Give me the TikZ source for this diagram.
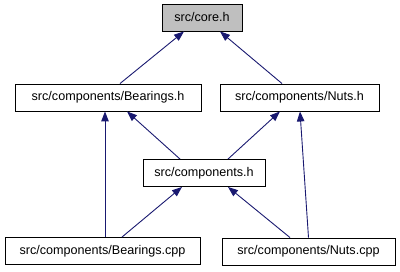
\documentclass[tikz,border=0pt]{standalone}
\usepackage{fontspec}
\setmainfont{Liberation Sans}
\usetikzlibrary{arrows.meta}
\definecolor{edgeblue}{HTML}{191970}
\definecolor{corefill}{HTML}{BFBFBF}
\tikzset{
  file/.style={draw=black, line width=0.9pt, fill=white, inner sep=0pt,
    minimum height=27pt, font=\fontsize{12.6pt}{14pt}\selectfont},
  current/.style={file, fill=corefill},
  dep/.style={draw=edgeblue, line width=0.9pt,
    -{Triangle[length=10pt,width=7.5pt]}}
}
\begin{document}
\begin{tikzpicture}[x=1pt,y=-1pt]
  \useasboundingbox (0,0) rectangle (400,272);
  % header files
  \node[current, minimum width=80pt]  (core) at (202,17.5)  {src/core.h};
  \node[file, minimum width=186pt]    (bh)   at (108,97.5)  {src/components/Bearings.h};
  \node[file, minimum width=159pt]    (nh)   at (299.5,97.5) {src/components/Nuts.h};
  \node[file, minimum width=122pt]    (comp) at (204,173)   {src/components.h};
  % sources
  \node[file, minimum width=195pt]    (bcpp) at (102.5,251) {src/components/Bearings.cpp};
  \node[file, minimum width=173pt]    (ncpp) at (308.5,251.5) {src/components/Nuts.cpp};
  % include relations
  \draw[dep] ([xshift=12pt]bh.north)    -- ([xshift=-18pt]core.south);
  \draw[dep] ([xshift=-17.5pt]nh.north) -- ([xshift=18pt]core.south);
  \draw[dep] ([xshift=-24pt]comp.north) -- ([xshift=19pt]bh.south);
  \draw[dep] ([xshift=24pt]comp.north)  -- ([xshift=-19.5pt]nh.south);
  \draw[dep] ([xshift=2.5pt]bcpp.north) -- ([xshift=-3pt]bh.south);
  \draw[dep] ([xshift=19.5pt]bcpp.north) -- ([xshift=-22pt]comp.south);
  \draw[dep] ([xshift=-18.5pt]ncpp.north) -- ([xshift=24pt]comp.south);
  \draw[dep] ([xshift=0pt]ncpp.north)   -- ([xshift=0.5pt]nh.south);
\end{tikzpicture}
\end{document}
